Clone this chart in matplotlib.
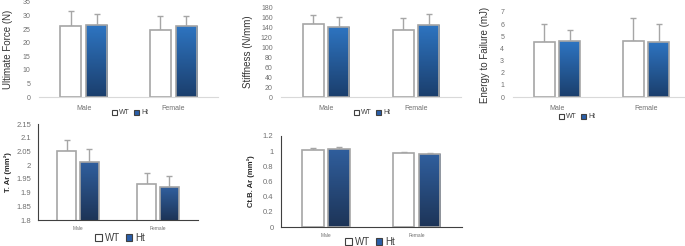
import numpy as np
import matplotlib.pyplot as plt
from matplotlib.patches import Patch
from matplotlib.ticker import FuncFormatter, MultipleLocator
from matplotlib.colors import LinearSegmentedColormap

plt.rcParams['font.family'] = ['Liberation Sans', 'DejaVu Sans']

# data
groups = ['Male', 'Female']
series = ['WT', 'Ht']

force_wt = [26.3, 24.5]
force_wt_err = [5.4, 5.3]
force_ht = [26.4, 26.2]
force_ht_err = [4.1, 3.6]

stiff_wt = [146, 134]
stiff_wt_err = [19, 24]
stiff_ht = [141, 145]
stiff_ht_err = [20, 21]

energy_wt = [4.5, 4.6]
energy_wt_err = [1.5, 1.9]
energy_ht = [4.6, 4.55]
energy_ht_err = [0.95, 1.45]

tar_wt = [2.05, 1.93]
tar_wt_err = [0.04, 0.04]
tar_ht = [2.01, 1.92]
tar_ht_err = [0.05, 0.04]

ctbar_wt = [1.02, 0.97]
ctbar_wt_err = [0.02, 0.02]
ctbar_ht = [1.03, 0.96]
ctbar_ht_err = [0.02, 0.02]

W, H = 685, 246
fig = plt.figure(figsize=(W / 100, H / 100), dpi=100)


def pos(l, r, t, b):
    return [l / W, 1 - b / H, (r - l) / W, (b - t) / H]


top_cmap = LinearSegmentedColormap.from_list('top', ['#1b3e6c', '#2e75c2'])
bot_cmap = LinearSegmentedColormap.from_list('bot', ['#1d3457', '#305f9e'])
grad = np.linspace(0, 1, 256).reshape(-1, 1)


def panel(rect, wt, wt_err, ht, ht_err, ylabel, ylim, step, row, leg_xy, lab_x):
    ax = fig.add_axes(pos(*rect))
    x = np.arange(len(groups))
    w, off = 0.235, 0.143
    edge = '#a6a6a6'
    ax.bar(x - off, wt, w, color='white', edgecolor=edge, linewidth=1.2, zorder=2)
    b2 = ax.bar(x + off, ht, w, color='none', edgecolor=edge, linewidth=1.2, zorder=3)
    ax.errorbar(x - off, wt, yerr=[np.zeros(2), wt_err], fmt='none', ecolor=edge,
                elinewidth=1, capsize=2.5, capthick=1, zorder=1)
    ax.errorbar(x + off, ht, yerr=[np.zeros(2), ht_err], fmt='none', ecolor=edge,
                elinewidth=1, capsize=2.5, capthick=1, zorder=1)
    cmap = top_cmap if row == 0 else bot_cmap
    for p in b2:
        im = ax.imshow(grad, extent=[p.get_x(), p.get_x() + p.get_width(), ylim[0], p.get_height()],
                       origin='lower', aspect='auto', cmap=cmap, zorder=2)
        im.set_clip_path(p)
    ax.set_xlim(-0.5, 1.5)
    ax.set_ylim(*ylim)
    ax.yaxis.set_major_locator(MultipleLocator(step))
    ax.yaxis.set_major_formatter(FuncFormatter(lambda v, _: '{:g}'.format(round(v, 3))))
    ax.set_xticks(x)
    ax.set_xticklabels(groups)
    for s in ['top', 'right']:
        ax.spines[s].set_visible(False)
    if row == 0:
        ax.spines['left'].set_visible(False)
        ax.spines['bottom'].set_color('#d9d9d9')
        ax.tick_params(length=0, labelsize=5, labelcolor='#707070')
        ax.tick_params(axis='x', pad=6)
        ax.tick_params(axis='y', pad=6)
        ax.set_ylabel(ylabel, fontsize=7, color='#333333')
        leg_fs = 5
    else:
        ax.spines['left'].set_color('#404040')
        ax.spines['bottom'].set_color('#404040')
        ax.tick_params(length=0, labelcolor='#707070')
        ax.tick_params(axis='y', labelsize=5.5, pad=5)
        ax.tick_params(axis='x', labelsize=3.5, pad=4)
        ax.set_ylabel(ylabel, fontsize=5.5, fontweight='bold', color='#262626')
        leg_fs = 7
    l, r = rect[0], rect[1]
    ax.yaxis.set_label_coords((lab_x - l) / (r - l), 0.5)
    handles = [Patch(facecolor='white', edgecolor='#404040', linewidth=0.8),
               Patch(facecolor='#2a5ea8', edgecolor='#404040', linewidth=0.8)]
    ax.legend(handles, series, loc='center', bbox_to_anchor=(leg_xy[0] / W, 1 - leg_xy[1] / H),
              bbox_transform=fig.transFigure, ncol=2, frameon=False, fontsize=leg_fs,
              handlelength=0.7, handleheight=0.7, handletextpad=0.3, columnspacing=0.6,
              borderpad=0, labelcolor='#404040')
    return ax


panel((39, 218, 2, 97), force_wt, force_wt_err, force_ht, force_ht_err,
      'Ultimate Force (N)', (0, 35), 5, 0, (130, 113), 13)
panel((281, 461, 7, 97), stiff_wt, stiff_wt_err, stiff_ht, stiff_ht_err,
      'Stiffness (N/mm)', (0, 180), 20, 0, (372, 113), 253)
panel((512.5, 690.5, 12, 97), energy_wt, energy_wt_err, energy_ht, energy_ht_err,
      'Energy to Failure (mJ)', (0, 7), 1, 0, (577, 117), 490)
panel((38, 198, 124, 220), tar_wt, tar_wt_err, tar_ht, tar_ht_err,
      'T. Ar (mm²)', (1.8, 2.15), 0.05, 1, (120, 238), 12)
panel((280.5, 462, 136, 227), ctbar_wt, ctbar_wt_err, ctbar_ht, ctbar_ht_err,
      'Ct.B. Ar (mm²)', (0, 1.2), 0.2, 1, (370, 242), 255)

fig.savefig('out.png', dpi=100)
